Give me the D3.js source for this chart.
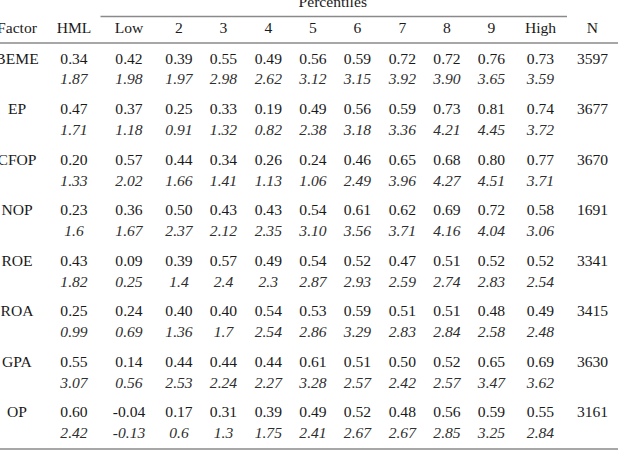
<!DOCTYPE html>
<html>
<head>
<meta charset="utf-8">
<script src="https://cdn.jsdelivr.net/npm/d3@7"></script>
<style>
  body { margin: 0; background: #fff; }
  svg text { font-family: "Liberation Serif", "Times New Roman", serif; font-size: 15.6px; fill: #1a1a1a; }
  svg text.tstat { font-style: italic; fill: #2e2e2e; }
</style>
</head>
<body>
<div id="chart-area"></div>
<script>
// table data
var factors = ["BEME", "EP", "CFOP", "NOP", "ROE", "ROA", "GPA", "OP"];
var pctLabels = ["Low", "2", "3", "4", "5", "6", "7", "8", "9", "High"];

var hml  = ["0.34", "0.47", "0.20", "0.23", "0.43", "0.25", "0.55", "0.60"];
var hmlT = ["1.87", "1.71", "1.33", "1.6", "1.82", "0.99", "3.07", "2.42"];

var pctMeans = [
  ["0.42", "0.39", "0.55", "0.49", "0.56", "0.59", "0.72", "0.72", "0.76", "0.73"],
  ["0.37", "0.25", "0.33", "0.19", "0.49", "0.56", "0.59", "0.73", "0.81", "0.74"],
  ["0.57", "0.44", "0.34", "0.26", "0.24", "0.46", "0.65", "0.68", "0.80", "0.77"],
  ["0.36", "0.50", "0.43", "0.43", "0.54", "0.61", "0.62", "0.69", "0.72", "0.58"],
  ["0.09", "0.39", "0.57", "0.49", "0.54", "0.52", "0.47", "0.51", "0.52", "0.52"],
  ["0.24", "0.40", "0.40", "0.54", "0.53", "0.59", "0.51", "0.51", "0.48", "0.49"],
  ["0.14", "0.44", "0.44", "0.44", "0.61", "0.51", "0.50", "0.52", "0.65", "0.69"],
  ["-0.04", "0.17", "0.31", "0.39", "0.49", "0.52", "0.48", "0.56", "0.59", "0.55"]
];
var pctT = [
  ["1.98", "1.97", "2.98", "2.62", "3.12", "3.15", "3.92", "3.90", "3.65", "3.59"],
  ["1.18", "0.91", "1.32", "0.82", "2.38", "3.18", "3.36", "4.21", "4.45", "3.72"],
  ["2.02", "1.66", "1.41", "1.13", "1.06", "2.49", "3.96", "4.27", "4.51", "3.71"],
  ["1.67", "2.37", "2.12", "2.35", "3.10", "3.56", "3.71", "4.16", "4.04", "3.06"],
  ["0.25", "1.4", "2.4", "2.3", "2.87", "2.93", "2.59", "2.74", "2.83", "2.54"],
  ["0.69", "1.36", "1.7", "2.54", "2.86", "3.29", "2.83", "2.84", "2.58", "2.48"],
  ["0.56", "2.53", "2.24", "2.27", "3.28", "2.57", "2.42", "2.57", "3.47", "3.62"],
  ["-0.13", "0.6", "1.3", "1.75", "2.41", "2.67", "2.67", "2.85", "3.25", "2.84"]
];
var obsN = ["3597", "3677", "3670", "1691", "3341", "3415", "3630", "3161"];

var width = 618, height = 454;

var columns = ["Factor", "HML"].concat(pctLabels, ["N"]);

// column centres
var x = d3.scaleOrdinal()
  .domain(columns)
  .range([17, 74, 129, 179, 223.5, 268.3, 313, 357.5, 402.3, 447, 491.5, 540.5, 592.5]);

// row centres (the estimate line), t-stat line sits below
var y = d3.scalePoint()
  .domain(factors)
  .range([58.3, 412]);
var tOffset = 21;
var base = 5.2; // centre -> baseline

var svg = d3.select("#chart-area").append("svg")
  .attr("width", width)
  .attr("height", height);

// rules
var rule = "#8a8a8a";
svg.append("line")
  .attr("x1", 100.5).attr("x2", 567)
  .attr("y1", 16.5).attr("y2", 16.5)
  .style("stroke", rule).style("stroke-width", 1.5);
svg.append("line")
  .attr("x1", 0).attr("x2", width)
  .attr("y1", 43).attr("y2", 43)
  .style("stroke", rule).style("stroke-width", 1.6);
svg.append("line")
  .attr("x1", 0).attr("x2", width)
  .attr("y1", 449).attr("y2", 449)
  .style("stroke", rule).style("stroke-width", 1.6);

// header
svg.append("text")
  .attr("text-anchor", "middle")
  .attr("x", (x("Low") + x("High")) / 2 - 2)
  .attr("y", 7)
  .text("Percentiles");

svg.selectAll(".head")
  .data(columns)
  .enter()
  .append("text")
  .attr("class", "head")
  .attr("text-anchor", "middle")
  .attr("x", function(d) { return x(d); })
  .attr("y", 28 + base)
  .text(function(d) { return d; });

// body rows
var rows = factors.map(function(f, i) {
  return {
    factor: f,
    means: [hml[i]].concat(pctMeans[i]),
    tstats: [hmlT[i]].concat(pctT[i]),
    n: obsN[i]
  };
});
var valueCols = ["HML"].concat(pctLabels);

var g = svg.selectAll(".row")
  .data(rows)
  .enter()
  .append("g")
  .attr("class", "row")
  .attr("transform", function(d) { return "translate(0," + y(d.factor) + ")"; });

g.append("text")
  .attr("text-anchor", "middle")
  .attr("x", x("Factor"))
  .attr("y", base)
  .text(function(d) { return d.factor; });

g.append("text")
  .attr("text-anchor", "middle")
  .attr("x", x("N"))
  .attr("y", base)
  .text(function(d) { return d.n; });

g.selectAll(".mean")
  .data(function(d) { return d.means; })
  .enter()
  .append("text")
  .attr("class", "mean")
  .attr("text-anchor", "middle")
  .attr("x", function(d, i) { return x(valueCols[i]); })
  .attr("y", base)
  .text(function(d) { return d; });

g.selectAll(".tstat")
  .data(function(d) { return d.tstats; })
  .enter()
  .append("text")
  .attr("class", "tstat")
  .attr("text-anchor", "middle")
  .attr("x", function(d, i) { return x(valueCols[i]); })
  .attr("y", tOffset + base)
  .text(function(d) { return d; });
</script>
</body>
</html>
